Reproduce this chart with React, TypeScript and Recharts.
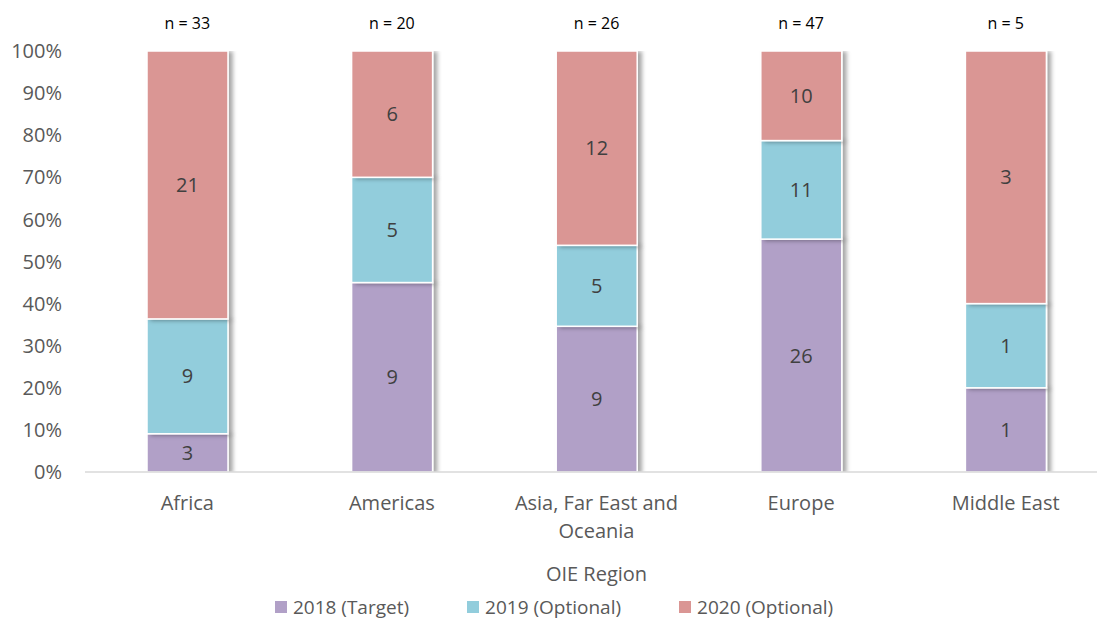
import React from 'react';
import { BarChart, Bar, XAxis, YAxis, Legend, LabelList, Text } from 'recharts';

const categories = ['Africa', 'Americas', 'Asia, Far East and Oceania', 'Europe', 'Middle East'];
const counts2018 = [3, 9, 9, 26, 1];
const counts2019 = [9, 5, 5, 11, 1];
const counts2020 = [21, 6, 12, 10, 3];
const totals = [33, 20, 26, 47, 5];
const yTicks = [0, 0.1, 0.2, 0.3, 0.4, 0.5, 0.6, 0.7, 0.8, 0.9, 1];

const seriesNames = ['2018 (Target)', '2019 (Optional)', '2020 (Optional)'];
const colors = ['#B1A0C7', '#92CDDC', '#DA9694'];

const FONT = '"Open Sans", sans-serif';

const data = categories.map((region, i) => ({
  region,
  n: totals[i],
  c2018: counts2018[i],
  c2019: counts2019[i],
  c2020: counts2020[i],
  p2018: counts2018[i] / totals[i],
  p2019: counts2019[i] / totals[i],
  p2020: counts2020[i] / totals[i],
}));

const ShadowRect = (props: any) => {
  const { x, y, width, height, fill } = props;
  if (!height || height <= 0) return null;
  return (
    <rect
      x={x}
      y={y}
      width={width}
      height={height}
      fill={fill}
      stroke="#ffffff"
      strokeWidth={1.5}
      filter="url(#barShadow)"
    />
  );
};

const BottomTick = (props: any) => {
  const { x, y, payload } = props;
  return (
    <Text
      x={x}
      y={y + 24}
      width={190}
      textAnchor="middle"
      verticalAnchor="start"
      lineHeight={28}
      fontSize={20}
      fontFamily={FONT}
      fill="#595959"
      style={{ fontSize: 20, fontFamily: FONT }}
    >
      {payload.value}
    </Text>
  );
};

const TopTick = (props: any) => {
  const { x, index } = props;
  return (
    <text x={x} y={29} textAnchor="middle" fontSize={16} fontFamily={FONT} fill="#000000">
      {`n = ${totals[index]}`}
    </text>
  );
};

const LegendContent = () => (
  <div
    style={{
      display: 'flex',
      justifyContent: 'center',
      gap: 58,
      fontFamily: FONT,
      fontSize: 19,
      color: '#595959',
      lineHeight: '24px',
    }}
  >
    {seriesNames.map((name, i) => (
      <div key={name} style={{ display: 'flex', alignItems: 'center' }}>
        <span style={{ display: 'inline-block', width: 12, height: 12, background: colors[i], marginRight: 6 }} />
        <span>{name}</span>
      </div>
    ))}
  </div>
);

export default function App() {
  return (
    <div style={{ position: 'absolute', left: 0, top: 0, width: 1097, height: 619, overflow: 'hidden', background: '#fff' }}>
      <svg width={0} height={0} style={{ position: 'absolute' }}>
        <defs>
          <filter id="barShadow" x="-20%" y="-20%" width="150%" height="150%">
            <feDropShadow dx={4} dy={1} stdDeviation={2.2} floodColor="#000" floodOpacity={0.35} />
          </filter>
        </defs>
      </svg>
      <BarChart
        width={1110}
        height={619}
        data={data}
        margin={{ top: 0, right: 2, bottom: 0, left: 0 }}
        barSize={81}
      >
        <XAxis
          xAxisId="top"
          orientation="top"
          dataKey="region"
          height={51}
          axisLine={false}
          tickLine={false}
          tick={<TopTick />}
        />
        <XAxis
          dataKey="region"
          height={123}
          axisLine={{ stroke: '#D9D9D9', strokeWidth: 1.5 }}
          tickLine={false}
          tickSize={0}
          tickMargin={0}
          interval={0}
          tick={<BottomTick />}
          label={{
            content: (p: any) => {
              const vb = p.viewBox || {};
              return (
                <text
                  x={vb.x + vb.width / 2}
                  y={581}
                  textAnchor="middle"
                  fontSize={20}
                  fontFamily={FONT}
                  fill="#595959"
                >
                  OIE Region
                </text>
              );
            },
          }}
        />
        <YAxis
          width={85}
          domain={[0, 1]}
          ticks={yTicks}
          allowDataOverflow
          axisLine={false}
          tickLine={false}
          tickSize={6}
          tickMargin={17}
          tickFormatter={(v: number) => `${Math.round(v * 100)}%`}
          tick={{ fontSize: 20, fontFamily: FONT, fill: '#595959' }}
        />
        <Legend verticalAlign="bottom" height={24} content={<LegendContent />} />
        <Bar dataKey="p2018" stackId="a" fill={colors[0]} isAnimationActive={false} shape={<ShadowRect />}>
          <LabelList dataKey="c2018" position="center" fontSize={20} fontFamily={FONT} fill="#404040" />
        </Bar>
        <Bar dataKey="p2019" stackId="a" fill={colors[1]} isAnimationActive={false} shape={<ShadowRect />}>
          <LabelList dataKey="c2019" position="center" fontSize={20} fontFamily={FONT} fill="#404040" />
        </Bar>
        <Bar dataKey="p2020" stackId="a" fill={colors[2]} isAnimationActive={false} shape={<ShadowRect />}>
          <LabelList dataKey="c2020" position="center" fontSize={20} fontFamily={FONT} fill="#404040" />
        </Bar>
      </BarChart>
    </div>
  );
}
